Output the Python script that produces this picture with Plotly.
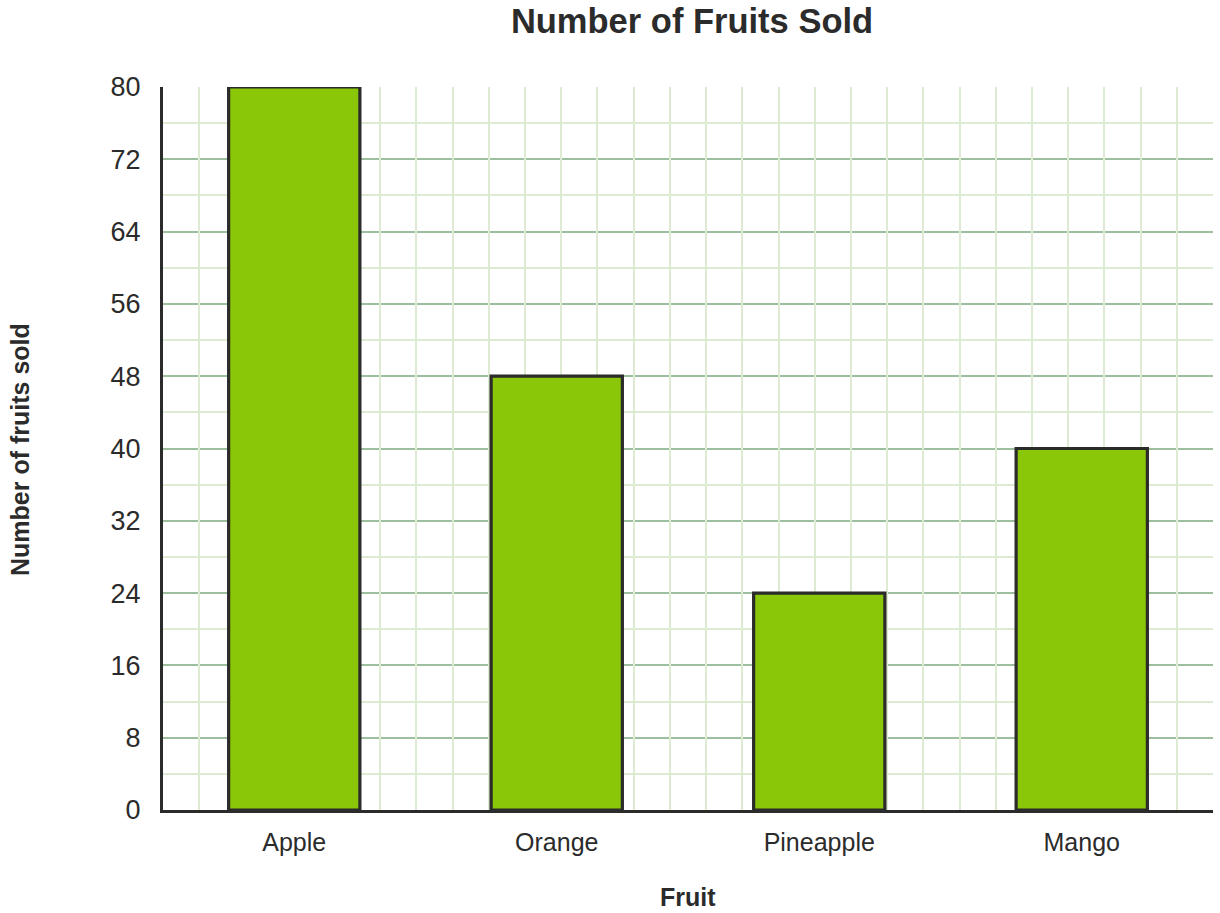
import plotly.graph_objects as go

fruits = ["Apple", "Orange", "Pineapple", "Mango"]
sold = [80, 48, 24, 40]
y_ticks = [0, 8, 16, 24, 32, 40, 48, 56, 64, 72, 80]

FONT = "Liberation Sans, Arial, sans-serif"
DARK = "#2b2b2b"

fig = go.Figure()
fig.add_trace(go.Bar(
    x=fruits, y=sold, width=0.5,
    marker=dict(color="#8bc709", line=dict(color=DARK, width=3.2)),
    xaxis="x", yaxis="y", showlegend=False,
))
# invisible trace to activate the secondary x axis used for vertical grid
fig.add_trace(go.Scatter(x=[0, 29], y=[0, 0], mode="markers",
                         marker=dict(opacity=0), xaxis="x2", yaxis="y",
                         showlegend=False, hoverinfo="skip"))

W, H = 1220, 913
L, R, T, B = 163, 7, 87, 103
plot_w = W - L - R
plot_h = H - T - B

fig.update_layout(
    width=W, height=H,
    margin=dict(l=L, r=R, t=T, b=B),
    paper_bgcolor="white", plot_bgcolor="white",
    font=dict(family=FONT, color=DARK),
    title=dict(text="<b>Number of Fruits Sold</b>", x=692 / W, xanchor="center",
               y=1 - 21 / H, yanchor="middle", font=dict(size=34.5, color=DARK)),
    xaxis=dict(
        type="category", range=[-0.5, 3.5], showgrid=False,
        showline=True, linecolor=DARK, linewidth=3,
        tickfont=dict(size=25, color=DARK), ticks="outside", ticklen=8,
        tickcolor="rgba(0,0,0,0)", zeroline=False,
    ),
    xaxis2=dict(
        overlaying="x", range=[0, 29], dtick=1, tick0=0, showgrid=True,
        gridcolor="#dcebd2", gridwidth=2, showticklabels=False, zeroline=False,
        showline=False, side="top",
    ),
    yaxis=dict(
        range=[0, 80], tickvals=y_ticks, showgrid=True,
        gridcolor="#9cc09e", gridwidth=2,
        minor=dict(dtick=4, tick0=0, showgrid=True, gridcolor="#dcebd2", gridwidth=2),
        showline=True, linecolor=DARK, linewidth=3, zeroline=False,
        tickfont=dict(size=27, color=DARK), ticks="outside", ticklen=14,
        tickcolor="rgba(0,0,0,0)",
    ),
    annotations=[
        dict(text="<b>Fruit</b>", xref="paper", yref="paper",
             x=(688 - 163) / plot_w, y=(810 - 897) / plot_h,
             xanchor="center", yanchor="middle",
             showarrow=False, font=dict(size=25, color=DARK)),
        dict(text="<b>Number of fruits sold</b>", xref="paper", yref="paper",
             x=(20 - 163) / plot_w, y=(810 - 450) / plot_h,
             xanchor="center", yanchor="middle", showarrow=False,
             textangle=-90, font=dict(size=25, color=DARK)),
    ],
)

fig.write_html("out.html",
               config={"displayModeBar": False},
               post_script="document.body.style.margin='0';")
